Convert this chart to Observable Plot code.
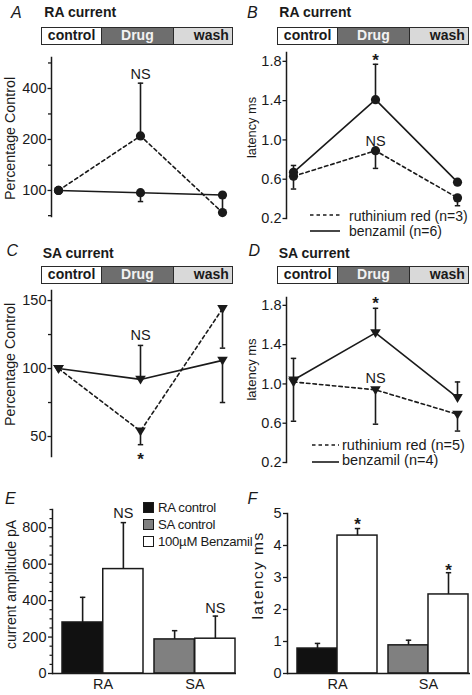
<!DOCTYPE html>
<html>
<head>
<meta charset="utf-8">
<script src="https://cdn.jsdelivr.net/npm/d3@7"></script>
<script src="https://cdn.jsdelivr.net/npm/@observablehq/plot@0.6"></script>
<style>
html,body{margin:0;padding:0;background:#fff;}
#fig{position:relative;width:472px;height:695px;overflow:hidden;font-family:"Liberation Sans",Arial,sans-serif;color:#1a1a1a;background:#fff;}
.pn{position:absolute;}
.pn svg{overflow:visible;background:transparent;}
.t{position:absolute;line-height:1;white-space:nowrap;}
.stage{position:absolute;width:192px;height:18px;background:#2a2a2a;}
.stage div{position:absolute;top:1.2px;height:15.6px;line-height:15.6px;font-weight:bold;font-size:14px;text-align:center;}
.sq{position:absolute;width:11px;height:11px;box-sizing:border-box;border:1px solid #1a1a1a;}
</style>
</head>
<body>
<div id="fig"></div>
<script>
// ---------- data ----------
const conditions = ["control", "Drug", "wash"];

// A: RA current, percentage of control
const aRuthiniumRed = [100, 210, 74];
const aRuthiniumRedErr = [null, 430, 94];
const aBenzamil = [100, 97, 94];
const aBenzamilErr = [null, 86, null];
const aTicks = [100, 200, 400];
const aMinorTicks = [71, 141, 283, 566];
const aNotes = [{cond: "Drug", y: 484, text: "NS"}];

// B: RA current, latency ms
const bRuthiniumRed = [0.63, 0.89, 0.41];
const bRuthiniumRedErr = [0.50, 0.71, 0.33];
const bBenzamil = [0.67, 1.41, 0.57];
const bBenzamilErr = [0.74, 1.77, null];
const bTicks = [0.2, 0.6, 1.0, 1.4, 1.8];
const bNotes = [{cond: "Drug", y: 1.849, text: "*"}, {cond: "Drug", y: 0.982, text: "NS"}];
const bLegend = ["ruthinium red (n=3)", "benzamil (n=6)"];

// C: SA current, percentage of control
const cRuthiniumRed = [100, 54, 144];
const cRuthiniumRedErr = [null, 44, 115];
const cBenzamil = [100, 92, 106];
const cBenzamilErr = [null, 117, 75];
const cTicks = [50, 100, 150];
const cMinorTicks = [75, 125];
const cNotes = [{cond: "Drug", y: 124.3, text: "NS"}, {cond: "Drug", y: 36, text: "*"}];

// D: SA current, latency ms
const dRuthiniumRed = [1.02, 0.94, 0.69];
const dRuthiniumRedErr = [0.62, 0.59, 0.52];
const dBenzamil = [1.04, 1.52, 0.86];
const dBenzamilErr = [1.26, 1.77, 1.02];
const dTicks = [0.2, 0.6, 1.0, 1.4, 1.8];
const dNotes = [{cond: "Drug", y: 1.864, text: "*"}, {cond: "Drug", y: 1.054, text: "NS"}];
const dLegend = ["ruthinium red (n=5)", "benzamil (n=4)"];

// E: current amplitude pA
const groups = ["RA", "SA"];
const eControl = [280, 187];
const eControlErr = [418, 235];
const eBenzamil = [573, 191];
const eBenzamilErr = [828, 315];
const eTicks = [0, 200, 400, 600, 800];
const eMinorTicks = [50, 100, 150, 250, 300, 350, 450, 500, 550, 650, 700, 750, 850, 900];
const eNotes = [{group: "RA", y: 877, text: "NS"}, {group: "SA", y: 356, text: "NS"}];
const eLegend = ["RA control", "SA control", "100\u00b5M Benzamil"];

// F: latency ms
const fControl = [0.78, 0.88];
const fControlErr = [0.94, 1.04];
const fBenzamil = [4.31, 2.47];
const fBenzamilErr = [4.53, 3.15];
const fTicks = [0, 1, 2, 3, 4, 5];
const fNotes = [{group: "RA", y: 4.77, text: "*"}, {group: "SA", y: 3.34, text: "*"}];

// ---------- helpers ----------
const ink = "#1a1a1a";
const fig = document.getElementById("fig");
const font = '"Liberation Sans", Arial, sans-serif';

const cap = {draw(ctx) { ctx.moveTo(-2.7, 0); ctx.lineTo(2.7, 0); }};
const triDown = {draw(ctx) { ctx.moveTo(-5.3, -3.6); ctx.lineTo(5.3, -3.6); ctx.lineTo(0, 5.2); ctx.closePath(); }};

function rows(rr, rrErr, bz, bzErr) {
  const out = [];
  conditions.forEach((c, i) => {
    out.push({series: "rr", cond: c, value: rr[i], err: rrErr[i]});
    out.push({series: "bz", cond: c, value: bz[i], err: bzErr[i]});
  });
  return out;
}

function mount(svg, o) {
  const [left, top, w, h] = o.box;
  if (o.labelSpacing) {
    svg.querySelectorAll("text").forEach(t => { if (t.textContent === o.label) t.setAttribute("letter-spacing", o.labelSpacing); });
  }
  const d = document.createElement("div");
  d.className = "pn";
  d.style.left = left + "px"; d.style.top = top + "px";
  d.style.width = w + "px"; d.style.height = h + "px";
  d.appendChild(svg);
  fig.appendChild(d);
}

function margins(box, frame) {
  const [left, top, width, height] = box;
  return {
    width, height,
    marginLeft: frame.left - left, marginRight: left + width - frame.right,
    marginTop: frame.top - top, marginBottom: top + height - frame.bottom
  };
}

const plotStyle = {fontFamily: font, fontSize: "14.5px", color: ink, background: "transparent", overflow: "visible"};

function yLabel(o) {
  return Plot.text([o.label], {frameAnchor: "left", textAnchor: "middle", lineAnchor: "middle", dx: o.labelDx, dy: o.labelDy, rotate: -90, fontSize: o.labelSize || 14, fill: ink});
}

function linePanel(o) {
  const left = o.box[0];
  const data = o.data;
  const rr = data.filter(d => d.series === "rr");
  const bz = data.filter(d => d.series === "bz");
  const errs = data.filter(d => d.err != null);
  const svg = Plot.plot({
    ...margins(o.box, o.frame),
    style: plotStyle,
    x: {type: "point", domain: conditions, range: o.xRange.map(v => v - left), padding: 0, axis: null},
    y: o.y,
    marks: [
      Plot.frame({anchor: "left", stroke: ink, strokeWidth: 1.5}),
      Plot.axisY({ticks: o.ticks, tickFormat: o.tickFormat, tickSize: 3.5, tickPadding: 1.5, strokeWidth: 1.3, label: null}),
      o.minor ? Plot.axisY({ticks: o.minor, tickFormat: () => "", tickSize: 3, strokeWidth: 1.3, label: null}) : null,
      Plot.line(rr, {x: "cond", y: "value", stroke: ink, strokeWidth: 1.6, strokeDasharray: "3.5,3"}),
      Plot.line(bz, {x: "cond", y: "value", stroke: ink, strokeWidth: 1.6}),
      Plot.ruleX(errs, {x: "cond", y1: "value", y2: "err", stroke: ink, strokeWidth: 1.6}),
      Plot.dot(errs, {x: "cond", y: "err", symbol: cap, r: 3, fill: "none", stroke: ink, strokeWidth: 1.5}),
      Plot.dot(data, {x: "cond", y: "value", symbol: o.symbol, r: 4.6, fill: ink, stroke: "none"}),
      Plot.text(o.notes.filter(n => n.text !== "*"), {x: "cond", y: "y", text: "text", fill: ink}),
      Plot.text(o.notes.filter(n => n.text === "*"), {x: "cond", y: "y", text: "text", fontSize: 17, fontWeight: "bold", dy: 4, fill: ink}),
      yLabel(o)
    ]
  });
  mount(svg, o);
}

function barPanel(o) {
  const left = o.box[0];
  const data = groups.map((g, i) => ({group: g, control: o.ctrl[i], controlErr: o.ctrlErr[i], benz: o.benz[i], benzErr: o.benzErr[i]}));
  const svg = Plot.plot({
    ...margins(o.box, o.frame),
    style: plotStyle,
    x: {type: "band", domain: groups, range: o.xRange.map(v => v - left), paddingInner: o.paddingInner, paddingOuter: 0, align: 0.5},
    y: {domain: o.yDomain},
    marks: [
      Plot.barY(data, {x: "group", y: "control", fill: d => d.group === "RA" ? "#111111" : "#808080", stroke: ink, strokeWidth: 1.5, insetRight: o.half}),
      Plot.barY(data, {x: "group", y: "benz", fill: "white", stroke: ink, strokeWidth: 1.5, insetLeft: o.half}),
      Plot.ruleX(data, {x: "group", y1: "control", y2: "controlErr", dx: -o.half / 2, stroke: ink, strokeWidth: 1.6}),
      Plot.ruleX(data, {x: "group", y1: "benz", y2: "benzErr", dx: o.half / 2, stroke: ink, strokeWidth: 1.6}),
      Plot.dot(data, {x: "group", y: "controlErr", dx: -o.half / 2, symbol: cap, r: 3, fill: "none", stroke: ink, strokeWidth: 1.5}),
      Plot.dot(data, {x: "group", y: "benzErr", dx: o.half / 2, symbol: cap, r: 3, fill: "none", stroke: ink, strokeWidth: 1.5}),
      Plot.frame({anchor: "left", stroke: ink, strokeWidth: 1.5}),
      Plot.ruleY([0], {stroke: ink, strokeWidth: 1.5}),
      Plot.axisY({ticks: o.ticks, tickFormat: d3.format("d"), tickSize: 4, tickPadding: 2, strokeWidth: 1.3, label: null}),
      o.minor ? Plot.axisY({ticks: o.minor, tickFormat: () => "", tickSize: 2.5, strokeWidth: 1.2, label: null}) : null,
      Plot.axisX({tickSize: 0, tickPadding: 5, label: null}),
      Plot.text(o.notes.filter(n => n.text !== "*"), {x: "group", y: "y", text: "text", dx: o.half / 2, fill: ink}),
      Plot.text(o.notes.filter(n => n.text === "*"), {x: "group", y: "y", text: "text", dx: o.half / 2, dy: 4, fontSize: 17, fontWeight: "bold", fill: ink}),
      yLabel(o)
    ]
  });
  mount(svg, o);
}

// ---------- panels ----------
linePanel({box: [0, 0, 236, 230], frame: {left: 51, right: 230, top: 57, bottom: 216}, xRange: [58, 222],
  y: {type: "log", domain: [70.2, 609.6]}, ticks: aTicks, minor: aMinorTicks, tickFormat: d3.format("d"),
  symbol: "circle", data: rows(aRuthiniumRed, aRuthiniumRedErr, aBenzamil, aBenzamilErr), notes: aNotes,
  label: "Percentage Control", labelDx: -41, labelDy: 1.5, labelSize: 14.3});

linePanel({box: [236, 0, 236, 235], frame: {left: 286, right: 466, top: 52, bottom: 218}, xRange: [293, 457],
  y: {domain: [0.2, 1.89]}, ticks: bTicks, tickFormat: d3.format(".1f"),
  symbol: "circle", data: rows(bRuthiniumRed, bRuthiniumRedErr, bBenzamil, bBenzamilErr), notes: bNotes,
  label: "latency ms", labelDx: -34.5, labelDy: -8, labelSize: 12.8});

linePanel({box: [0, 230, 236, 230], frame: {left: 51, right: 230, top: 290, bottom: 456}, xRange: [58, 222],
  y: {domain: [35.3, 157.4]}, ticks: cTicks, minor: cMinorTicks, tickFormat: d3.format("d"),
  symbol: triDown, data: rows(cRuthiniumRed, cRuthiniumRedErr, cBenzamil, cBenzamilErr), notes: cNotes,
  label: "Percentage Control", labelDx: -41, labelDy: -9, labelSize: 14.3});

linePanel({box: [236, 230, 236, 236], frame: {left: 286, right: 466, top: 297, bottom: 462}, xRange: [293, 457],
  y: {domain: [0.2, 1.88]}, ticks: dTicks, tickFormat: d3.format(".1f"),
  symbol: triDown, data: rows(dRuthiniumRed, dRuthiniumRedErr, dBenzamil, dBenzamilErr), notes: dNotes,
  label: "latency ms", labelDx: -34.5, labelDy: -10.5, labelSize: 13});

barPanel({box: [0, 470, 240, 225], frame: {left: 52, right: 236, top: 509, bottom: 673}, xRange: [62, 236],
  paddingInner: 0.119, half: 40.75, yDomain: [0, 900], ticks: eTicks, minor: eMinorTicks,
  ctrl: eControl, ctrlErr: eControlErr, benz: eBenzamil, benzErr: eBenzamilErr, notes: eNotes,
  label: "current amplitude pA", labelDx: -41.2, labelDy: -7, labelSize: 14});

barPanel({box: [236, 470, 236, 225], frame: {left: 287, right: 470, top: 513, bottom: 673}, xRange: [297, 468],
  paddingInner: 0.121, half: 40, yDomain: [0, 5], ticks: fTicks,
  ctrl: fControl, ctrlErr: fControlErr, benz: fBenzamil, benzErr: fBenzamilErr, notes: fNotes,
  label: "latency ms", labelDx: -29.5, labelDy: -18, labelSize: 15.5, labelSpacing: 1.4});

// ---------- headers, stage bars, legends (HTML overlays) ----------
function text(str, x, baseline, size, extra = "") {
  const d = document.createElement("div");
  d.className = "t";
  d.textContent = str;
  d.style.cssText += `left:${x}px;top:${baseline - 0.8466 * size}px;font-size:${size}px;${extra}`;
  fig.appendChild(d);
}

const headers = [
  {letter: "A", lx: 11, ly: 18.3, title: "RA current", tx: 44.3, ty: 17.3, bx: 41, by: 27},
  {letter: "B", lx: 247, ly: 18.3, title: "RA current", tx: 279.3, ty: 17.3, bx: 277, by: 27},
  {letter: "C", lx: 6.5, ly: 256.7, title: "SA current", tx: 42.7, ty: 258.3, bx: 41, by: 266},
  {letter: "D", lx: 248.5, ly: 256.7, title: "SA current", tx: 278.7, ty: 258.3, bx: 277, by: 266}
];
const stageFill = ["#ffffff", "#6e6e6e", "#d9d9d9"];
const stageText = [ink, "#f2f2f2", ink];
const stageGeom = [[1.2, 58.8], [61, 70.8], [133, 57.8]];
headers.forEach(h => {
  text(h.letter, h.lx, h.ly, 16, "font-style:italic;");
  text(h.title, h.tx, h.ty, 14, "font-weight:bold;");
  const bar = document.createElement("div");
  bar.className = "stage";
  bar.style.left = h.bx + "px"; bar.style.top = h.by + "px";
  conditions.forEach((c, i) => {
    const s = document.createElement("div");
    s.textContent = c;
    s.style.left = stageGeom[i][0] + "px"; s.style.width = stageGeom[i][1] + "px";
    s.style.background = stageFill[i]; s.style.color = stageText[i];
    if (i === 2) { s.style.textAlign = "right"; s.style.paddingRight = "3px"; s.style.boxSizing = "border-box"; }
    bar.appendChild(s);
  });
  fig.appendChild(bar);
});
text("E", 5, 505, 16, "font-style:italic;");
text("F", 247.5, 505, 16, "font-style:italic;");

function lineLegend(labels, x1, x2, ys, tx, baselines, size) {
  labels.forEach((lab, i) => {
    const ns = "http://www.w3.org/2000/svg";
    const s = document.createElementNS(ns, "svg");
    s.setAttribute("width", x2 - x1); s.setAttribute("height", 4);
    s.style.cssText = `position:absolute;left:${x1}px;top:${ys[i] - 2}px;`;
    const l = document.createElementNS(ns, "line");
    l.setAttribute("x1", 0); l.setAttribute("x2", x2 - x1); l.setAttribute("y1", 2); l.setAttribute("y2", 2);
    l.setAttribute("stroke", ink); l.setAttribute("stroke-width", 1.6);
    if (i === 0) l.setAttribute("stroke-dasharray", "3.5,3");
    s.appendChild(l);
    fig.appendChild(s);
    text(lab, tx, baselines[i], size);
  });
}
lineLegend(bLegend, 310, 340, [215, 230.5], 349, [221, 235.5], 14);
lineLegend(dLegend, 312, 339, [445, 461.7], 342, [450, 465], 14.5);

const eLegendFill = ["#111111", "#808080", "#ffffff"];
eLegend.forEach((lab, i) => {
  const q = document.createElement("div");
  q.className = "sq";
  q.style.left = "143px"; q.style.top = (502 + 17 * i) + "px"; q.style.background = eLegendFill[i];
  fig.appendChild(q);
  text(lab, 158, 512.5 + 17 * i, 13.2, "letter-spacing:-0.3px;");
});
</script>
</body>
</html>
